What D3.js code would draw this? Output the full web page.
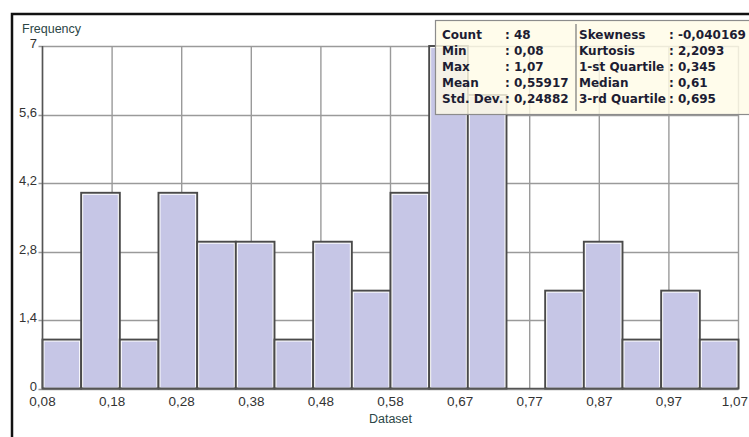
<!DOCTYPE html>
<html>
<head>
<meta charset="utf-8">
<script src="https://cdn.jsdelivr.net/npm/d3@7"></script>
<style>
  html, body { margin: 0; padding: 0; background: #fff; }
  svg { display: block; }
</style>
</head>
<body>
<svg id="chart" width="749" height="437"></svg>
<script>
// Histogram bins: edges and frequencies
const binEdges = [0.08, 0.135, 0.19, 0.245, 0.30, 0.355, 0.41, 0.465, 0.52, 0.575,
                  0.63, 0.685, 0.74, 0.795, 0.85, 0.905, 0.96, 1.015, 1.07];
const counts = [1, 4, 1, 4, 3, 3, 1, 3, 2, 4, 7, 6, 0, 2, 3, 1, 2, 1];

// Axis ticks
const xTickValues = [0.08, 0.179, 0.278, 0.377, 0.476, 0.575, 0.674, 0.773, 0.872, 0.971, 1.07];
const xTickLabels = ["0,08", "0,18", "0,28", "0,38", "0,48", "0,58", "0,67", "0,77", "0,87", "0,97", "1,07"];
const yTickValues = [0, 1.4, 2.8, 4.2, 5.6, 7];
const yTickLabels = ["0", "1,4", "2,8", "4,2", "5,6", "7"];

// Summary statistics
const statsLeftNames = ["Count", "Min", "Max", "Mean", "Std. Dev."];
const statsLeftValues = ["48", "0,08", "1,07", "0,55917", "0,24882"];
const statsRightNames = ["Skewness", "Kurtosis", "1-st Quartile", "Median", "3-rd Quartile"];
const statsRightValues = ["-0,040169", "2,2093", "0,345", "0,61", "0,695"];

const svg = d3.select("#chart");

const plot = { left: 42.5, right: 738.5, top: 46, bottom: 388.5 };

const x = d3.scaleLinear().domain([binEdges[0], binEdges[binEdges.length - 1]]).range([plot.left, plot.right]);
const y = d3.scaleLinear().domain([0, 7]).range([plot.bottom, plot.top]);

const axisFont = "'Liberation Sans', Arial, sans-serif";

// Outer frame
svg.append("rect")
  .attr("x", 12).attr("y", 14)
  .attr("width", 760).attr("height", 440)
  .attr("fill", "none").attr("stroke", "#111").attr("stroke-width", 2.5);

// Grid
const grid = svg.append("g");
grid.selectAll("line.h").data(yTickValues).join("line")
  .attr("x1", plot.left - 4).attr("x2", plot.right)
  .attr("y1", d => Math.round(y(d)) + 0.5).attr("y2", d => Math.round(y(d)) + 0.5)
  .attr("stroke", "#9a9a9a").attr("stroke-width", 1.4);
grid.selectAll("line.v").data(xTickValues).join("line")
  .attr("x1", d => x(d)).attr("x2", d => x(d))
  .attr("y1", plot.top).attr("y2", plot.bottom)
  .attr("stroke", "#9a9a9a").attr("stroke-width", 1.4);

// Bars
const bins = counts.map((c, i) => ({ lo: binEdges[i], hi: binEdges[i + 1], c }));
const bars = svg.append("g").selectAll("g").data(bins.filter(b => b.c > 0)).join("g");
bars.append("rect")
  .attr("x", d => x(d.lo)).attr("y", d => y(d.c))
  .attr("width", d => x(d.hi) - x(d.lo)).attr("height", d => y(0) - y(d.c))
  .attr("fill", "#ffffff").attr("stroke", "#4a4a4a").attr("stroke-width", 1.9);
bars.append("rect")
  .attr("x", d => x(d.lo) + 2).attr("y", d => y(d.c) + 2)
  .attr("width", d => x(d.hi) - x(d.lo) - 4).attr("height", d => y(0) - y(d.c) - 3)
  .attr("fill", "#c6c6e6");

// Axis lines
svg.append("line")
  .attr("x1", plot.left).attr("x2", plot.left).attr("y1", plot.top).attr("y2", plot.bottom)
  .attr("stroke", "#555").attr("stroke-width", 1.5);
svg.append("line")
  .attr("x1", plot.left).attr("x2", plot.right).attr("y1", plot.bottom).attr("y2", plot.bottom)
  .attr("stroke", "#555").attr("stroke-width", 1.5);

// Y tick labels
svg.append("g").selectAll("text").data(yTickValues).join("text")
  .attr("x", 37).attr("y", d => y(d) + 2)
  .attr("text-anchor", "end")
  .attr("font-family", axisFont).attr("font-size", 13)
  .attr("fill", "#333")
  .text((d, i) => yTickLabels[i]);

// X tick labels (the last one is kept inside the frame)
const lastTick = xTickValues.length - 1;
svg.append("g").selectAll("text").data(xTickValues).join("text")
  .attr("x", (d, i) => i === lastTick ? 748 : x(d)).attr("y", 405.5)
  .attr("text-anchor", (d, i) => i === lastTick ? "end" : "middle")
  .attr("font-family", axisFont).attr("font-size", 13.5)
  .attr("fill", "#333")
  .text((d, i) => xTickLabels[i]);

// Axis titles
svg.append("text")
  .attr("x", 22).attr("y", 33)
  .attr("font-family", axisFont).attr("font-size", 12.5)
  .attr("fill", "#2c4646")
  .text("Frequency");
svg.append("text")
  .attr("x", (plot.left + plot.right) / 2).attr("y", 423)
  .attr("text-anchor", "middle")
  .attr("font-family", axisFont).attr("font-size", 12.5)
  .attr("fill", "#2c4646")
  .text("Dataset");

// Statistics panel
const panel = svg.append("g");
panel.append("rect")
  .attr("x", 435.5).attr("y", 20.5).attr("width", 330).attr("height", 94)
  .attr("fill", "rgba(255,251,230,0.82)").attr("stroke", "#8c8c8c").attr("stroke-width", 1.2);
panel.append("line")
  .attr("x1", 576).attr("x2", 576).attr("y1", 24).attr("y2", 111)
  .attr("stroke", "#777").attr("stroke-width", 1.2);

const statFont = "'DejaVu Sans', Verdana, sans-serif";
const rowY = i => 38.5 + i * 16;
function statColumn(names, values, xName, xColon) {
  panel.append("g").selectAll("text").data(names).join("text")
    .attr("x", xName).attr("y", (d, i) => rowY(i))
    .attr("font-family", statFont).attr("font-size", 12).attr("font-weight", "bold")
    .attr("fill", "#1d1d33")
    .text(d => d);
  panel.append("g").selectAll("text").data(values).join("text")
    .attr("x", xColon).attr("y", (d, i) => rowY(i))
    .attr("font-family", statFont).attr("font-size", 12).attr("font-weight", "bold")
    .attr("fill", "#1d1d33")
    .text(d => ": " + d);
}
statColumn(statsLeftNames, statsLeftValues, 442, 505);
statColumn(statsRightNames, statsRightValues, 579, 669);
</script>
</body>
</html>
